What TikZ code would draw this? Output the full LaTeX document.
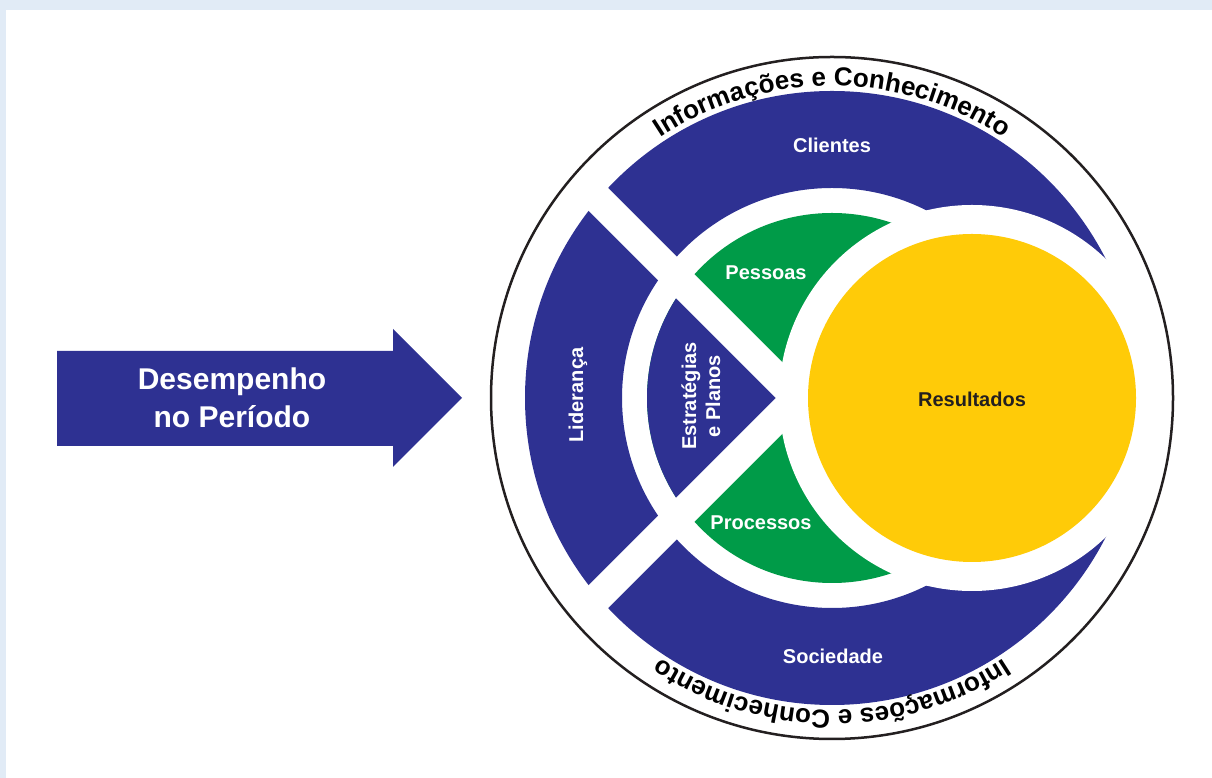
\documentclass[tikz,border=0pt]{standalone}
\usepackage{fontspec}
\setmainfont{Liberation Sans}
\usepackage{tikz}
\usetikzlibrary{decorations.text}

\definecolor{pnqblue}{RGB}{46,49,146}
\definecolor{pnqgreen}{RGB}{0,155,72}
\definecolor{pnqyellow}{RGB}{255,203,8}
\definecolor{pnqblack}{RGB}{35,31,32}
\definecolor{framebg}{RGB}{225,235,246}

\tikzset{
  inlabel/.style={text=white, font=\bfseries\fontsize{20}{24}\selectfont},
  cut/.style={white, line width=30pt}
}
\newcommand{\ringfont}{\bfseries\fontsize{26}{30}\selectfont}

\begin{document}
\begin{tikzpicture}[x=1pt,y=1pt]
  \useasboundingbox (0,0) rectangle (1212,778);
  \fill[framebg] (0,0) rectangle (1212,778);
  \fill[white] (6,0) rectangle (1212,768);

  % arrow on the left
  \fill[pnqblue] (57,332) -- (393,332) -- (393,311) -- (462,380)
    -- (393,449) -- (393,427) -- (57,427) -- cycle;
  \node[anchor=base, text=white, font=\bfseries\fontsize{30}{38}\selectfont]
    at (232,388) (perfa) {Desempenho};
  \node[anchor=base, text=white, font=\bfseries\fontsize{30}{38}\selectfont]
    at (232,350) (perfb) {no Período};

  % rings
  \coordinate (c) at (832,380);
  \coordinate (x) at (797,380);
  \coordinate (r) at (972,380);
  \fill[pnqblue, even odd rule] (c) circle (307pt) (c) circle (210pt);
  \fill[pnqgreen] (c) circle (185pt);
  \begin{scope}
    \clip (c) circle (185pt);
    \fill[pnqblue] (x) -- ++(-250,250) -- ++(0,-500) -- cycle;
  \end{scope}
  \draw[cut] (x) -- ++(135:292pt);
  \draw[cut] (x) -- ++(225:292pt);
  \fill[white] (r) circle (193pt);
  \fill[pnqyellow] (r) circle (164pt);
  \draw[pnqblack, line width=2.5pt] (c) circle (341pt);

  % text round the ring
  \path[decorate, decoration={text along path, text align=center,
      text={|\ringfont|Informações e Conhecimento}}]
    (c) ++(160:312pt) arc[start angle=160, end angle=20, radius=312pt];
  \path[decorate, decoration={text along path, text align=center,
      text={|\ringfont|Informações e Conhecimento}}]
    (c) ++(-20:312pt) arc[start angle=-20, end angle=-160, radius=312pt];

  \node[inlabel] at (832,633) (cli) {Clientes};
  \node[inlabel] at (833,122) (soc) {Sociedade};
  \node[inlabel] at (766,505) (pes) {Pessoas};
  \node[inlabel] at (761,255) (pro) {Processos};
  \node[inlabel, text=pnqblack] at (972,379) (res) {Resultados};
  \node[inlabel, rotate=90] at (578,383) (lid) {Liderança};
  \node[inlabel, rotate=90, align=center] at (701,382) (est) {Estratégias\\e Planos};
\end{tikzpicture}
\end{document}
